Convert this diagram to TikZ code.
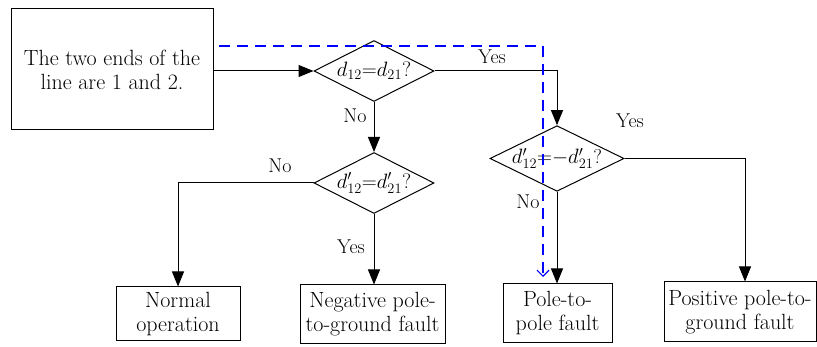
\documentclass[tikz,border=0pt]{standalone}
\usetikzlibrary{shapes.geometric,arrows.meta}

\tikzset{
  proc/.style={draw, line width=1pt, rectangle, align=center, inner sep=2pt,
    font=\fontsize{22}{24}\selectfont},
  decide/.style={draw, line width=1pt, diamond, aspect=2, inner sep=0pt,
    minimum width=120pt, minimum height=61pt, font=\fontsize{21}{22}\selectfont},
  lbl/.style={font=\fontsize{20}{22}\selectfont},
  link/.style={line width=1pt, -{Triangle[length=15pt,width=12pt]}},
  path1/.style={blue, line width=1.2pt, dash pattern=on 11pt off 7pt,
    -{Straight Barb[length=6pt,width=12pt]}}
}

\begin{document}
\begin{tikzpicture}[x=1pt, y=-1pt]
  \useasboundingbox (0,0) rectangle (817,347);

  % start box and the three tests
  \node[proc, minimum width=202pt, minimum height=121pt] (start) at (112,69.5)
    {The two ends of the\\line are 1 and 2.};
  \node[decide] (dec1) at (374,71) {$d_{12}{=}d_{21}$?};
  \node[decide] (dec2) at (374,183) {$d'_{12}{=}d'_{21}$?};
  \node[decide, minimum width=134pt, minimum height=59pt,
    font=\fontsize{20}{22}\selectfont] (dec3) at (557,158.5)
    {$d'_{12}{=}{-}d'_{21}$?};

  % results
  \node[proc, minimum width=124pt, minimum height=54pt] (normal) at (178,314)
    {Normal\\operation};
  \node[proc, minimum width=145pt, minimum height=59pt] (negf) at (372.5,314.5)
    {Negative pole-\\to-ground fault};
  \node[proc, minimum width=109pt, minimum height=59pt] (ppf) at (557.5,313.5)
    {Pole-to-\\pole fault};
  \node[proc, minimum width=152pt, minimum height=60pt] (posf) at (740,312)
    {Positive pole-to-\\ground fault};

  % connectors
  \draw[link] (start.east |- dec1.west) -- (dec1.west);
  \draw[link] (dec1.south) -- (dec2.north);
  \draw[link] (dec1.east) -| (dec3.north);
  \draw[link] (dec2.west) -| (normal.north);
  \draw[link] (dec2.south) -- (dec2.south |- negf.north);
  \draw[link] (dec3.south) -- (dec3.south |- ppf.north);
  \draw[link] (dec3.east) -| (745,0 |- posf.north);

  % branch labels
  \node[lbl] (no1) at (355,116) {No};
  \node[lbl] (no2) at (280,166) {No};
  \node[lbl] (yes1) at (351,247) {Yes};
  \node[lbl] (yes2) at (492,57) {Yes};
  \node[lbl] (yes3) at (630,121) {Yes};
  \node[lbl] (no3) at (528,202) {No};

  % fault path
  \coordinate (p0) at (219,46);
  \coordinate (p1) at (543,46);
  \coordinate (p2) at (543,277);
  \draw[path1] (p0) -- (p1) -- (p2);
\end{tikzpicture}
\end{document}
